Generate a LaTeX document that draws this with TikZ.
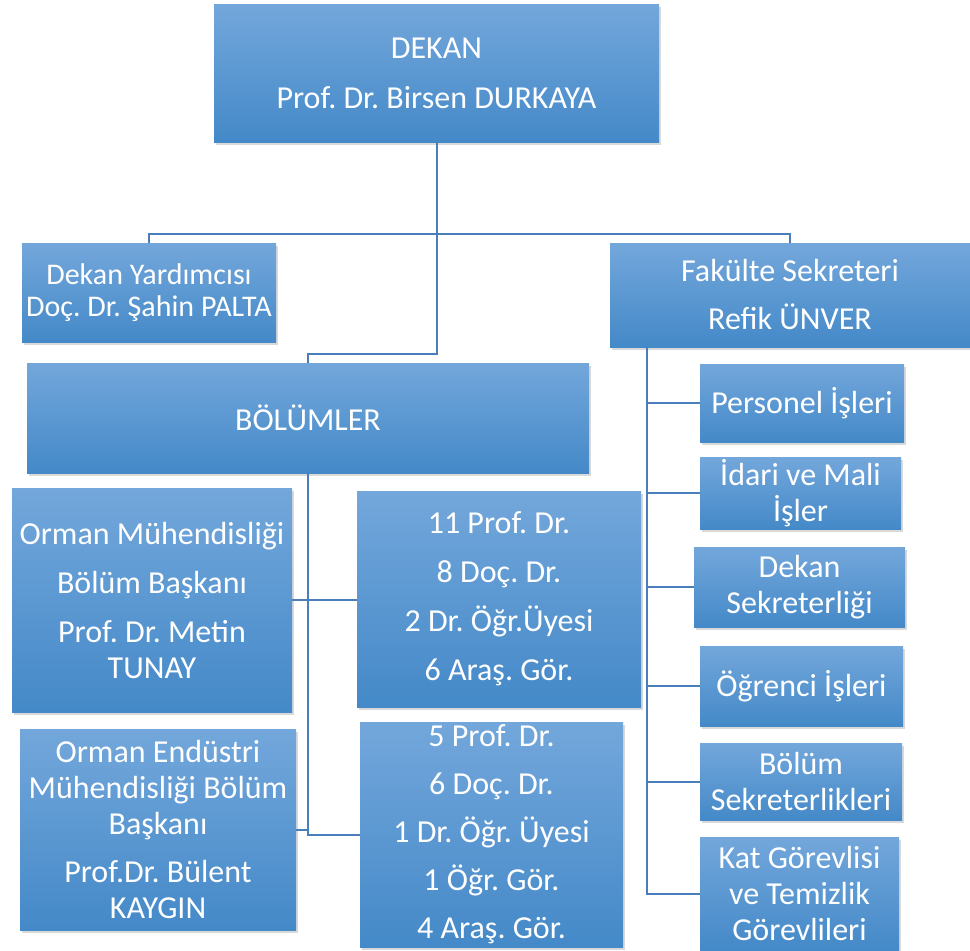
\documentclass[tikz,border=0pt]{standalone}
\usepackage{fontspec}
\setmainfont{Carlito}
\usepackage{tikz}
\usetikzlibrary{shadows}
\definecolor{boxtop}{RGB}{115,167,219}
\definecolor{boxmid}{RGB}{84,154,219}
\definecolor{boxbot}{RGB}{68,137,200}
\definecolor{linkblue}{RGB}{74,126,187}
\tikzset{
unitbox/.style={rectangle, inner sep=0pt, top color=boxtop, middle color=boxmid, bottom color=boxbot, text=white, align=center, font=\fontsize{32}{36}\selectfont\frenchspacing, drop shadow={opacity=0.3, shadow xshift=2pt, shadow yshift=-3pt}},
link/.style={draw=linkblue, line width=2pt}
}
\begin{document}
\begin{tikzpicture}[x=1pt,y=-1pt]
\useasboundingbox (0,0) rectangle (970,951);
\node[unitbox, minimum width=445pt, minimum height=138pt] (dekan) at (436.5,73) {DEKAN\\[14pt]Prof. Dr. Birsen DURKAYA};
\node[unitbox, minimum width=254pt, minimum height=99pt, font=\fontsize{30}{32}\selectfont\frenchspacing] (yard) at (149,292.5) {Dekan Yardımcısı\\Doç. Dr. Şahin PALTA};
\node[unitbox, minimum width=360pt, minimum height=104pt] (sekr) at (790,295) {Fakülte Sekreteri\\[12pt]Refik ÜNVER};
\node[unitbox, minimum width=562pt, minimum height=110pt] (bolumler) at (308,418) {BÖLÜMLER};
\node[unitbox, minimum width=280pt, minimum height=224pt] (orman1) at (152,600) {Orman Mühendisliği\\[13pt]Bölüm Başkanı\\[13pt]Prof. Dr. Metin\\TUNAY};
\node[unitbox, minimum width=276pt, minimum height=201pt] (orman2) at (158,829.5) {Orman Endüstri\\Mühendisliği Bölüm\\Başkanı\\[12pt]Prof.Dr. Bülent\\KAYGIN};
\node[unitbox, minimum width=284pt, minimum height=216pt] (stat1) at (499,599) {11 Prof. Dr.\\[13pt]8 Doç. Dr.\\[13pt]2 Dr. Öğr.Üyesi\\[13pt]6 Araş. Gör.};
\node[unitbox, minimum width=263pt, minimum height=225pt] (stat2) at (491.5,834.5) {5 Prof. Dr.\\[12pt]6 Doç. Dr.\\[12pt]1 Dr. Öğr. Üyesi\\[12pt]1 Öğr. Gör.\\[12pt]4 Araş. Gör.};
\node[unitbox, minimum width=204pt, minimum height=78pt] (personel) at (802,403) {Personel İşleri};
\node[unitbox, minimum width=201pt, minimum height=72pt] (idari) at (800.5,493) {İdari ve Mali\\İşler};
\node[unitbox, minimum width=211pt, minimum height=80pt] (dsek) at (799.5,587) {Dekan\\Sekreterliği};
\node[unitbox, minimum width=203pt, minimum height=80pt] (ogrenci) at (801.5,686) {Öğrenci İşleri};
\node[unitbox, minimum width=202pt, minimum height=77pt] (bsek) at (801,781.5) {Bölüm\\Sekreterlikleri};
\node[unitbox, minimum width=199pt, minimum height=113pt] (kat) at (799.5,893.5) {Kat Görevlisi\\ve Temizlik\\Görevlileri};
\draw[link] (dekan.south) -- ++(0,212) -| (bolumler.north);
\draw[link] (yard.north) -- ++(0,-9) -| (sekr.north);
\draw[link] (bolumler.south) |- (stat2.west);
\draw[link] (orman1.east) -- (orman1.east -| stat1.west);
\draw[link] (orman2.east) -- (bolumler.south |- orman2.east);
\coordinate (spine) at ([xshift=37pt]sekr.south west);
\draw[link] (spine) |- (kat.west);
\draw[link] (spine |- personel.west) -- (personel.west);
\draw[link] (spine |- idari.west) -- (idari.west);
\draw[link] (spine |- dsek.west) -- (dsek.west);
\draw[link] (spine |- ogrenci.west) -- (ogrenci.west);
\draw[link] (spine |- bsek.west) -- (bsek.west);
\end{tikzpicture}
\end{document}
